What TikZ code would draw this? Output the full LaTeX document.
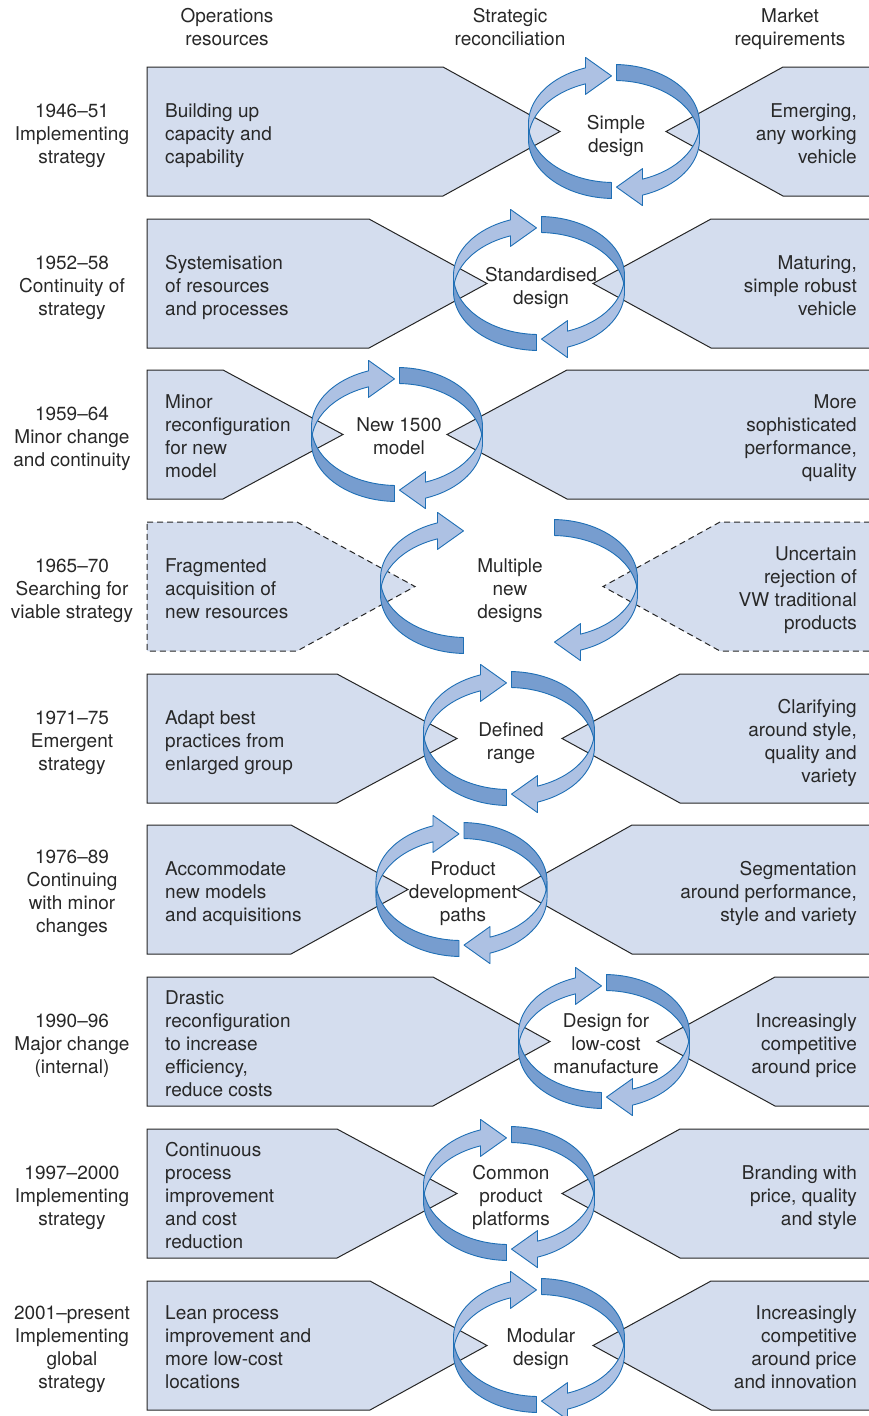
\documentclass[tikz,border=0pt]{standalone}
\usepackage{fontspec}
\setmainfont{TeX Gyre Heros}

\definecolor{panelfill}{RGB}{212,221,238}
\definecolor{ringlight}{RGB}{173,193,227}
\definecolor{ringdark}{RGB}{119,157,207}
\definecolor{ringline}{RGB}{31,111,181}
\definecolor{textgrey}{RGB}{40,40,40}

% ring of two arrows: #1 = centre of left arrow, #2 = centre of right arrow, #3 = row centre
\newcommand{\reconring}[3]{%
  \draw[darkband] plot[domain=180:91.68,samples=40] ({#1+85.5*cos(\x)},{#3+8+59*sin(\x)})
     -- plot[domain=91.68:180,samples=40] ({#1+85.5*cos(\x)},{#3-8+59*sin(\x)}) -- cycle;
  \draw[darkband] plot[domain=-88.32:0,samples=40] ({#2+85.5*cos(\x)},{#3-8+59*sin(\x)})
     -- plot[domain=0:-88.32,samples=40] ({#2+85.5*cos(\x)},{#3+8+59*sin(\x)}) -- cycle;
  \draw[lightband] plot[domain=-180:-109.47,samples=40] ({#1+85.5*cos(\x)},{#3-8+59*sin(\x)})
     -- (#1-28.5,#3-74.1) -- (#1-2.5,#3-55.6) -- (#1-28.5,#3-37.1)
     -- plot[domain=-109.47:-180,samples=40] ({#1+85.5*cos(\x)},{#3+8+59*sin(\x)}) -- cycle;
  \draw[lightband] plot[domain=0:70.53,samples=40] ({#2+85.5*cos(\x)},{#3+8+59*sin(\x)})
     -- (#2+28.5,#3+74.1) -- (#2+2.5,#3+55.6) -- (#2+28.5,#3+37.1)
     -- plot[domain=70.53:0,samples=40] ({#2+85.5*cos(\x)},{#3-8+59*sin(\x)}) -- cycle;
}

\begin{document}
\begin{tikzpicture}[x=1pt, y=-1pt,
    panel/.style={fill=panelfill, draw=black!85, line width=1pt},
    panelopen/.style={panel, dash pattern=on 6pt off 4pt},
    lightband/.style={fill=ringlight, draw=ringline, line width=0.9pt, line join=round},
    darkband/.style={fill=ringdark, draw=ringline, line width=0.9pt, line join=round},
    lbl/.style={inner sep=0pt, yshift=-5.5pt, text=textgrey, font=\fontsize{19}{23}\selectfont,
      execute at begin node=\strut, execute at end node=\strut},
    period/.style={lbl, align=center},
    resource/.style={lbl, anchor=west, align=left},
    market/.style={lbl, anchor=east, align=right},
    recon/.style={lbl, align=center}]
    \useasboundingbox (0,0) rectangle (869,1416);

    \node[period] (hdrops) at (227,25) {Operations\\resources};
    \node[period] (hdrrecon) at (510,25) {Strategic\\reconciliation};
    \node[period] (hdrmarket) at (790,25) {Market\\requirements};

    % 1946-51
    \draw[panel] (147,67) -- (443,67) -- (560,131.5) -- (443,196) -- (147,196) -- cycle;
    \draw[panel] (880,67) -- (783,67) -- (666,131.5) -- (783,196) -- (880,196);
    \reconring{614}{614}{131.5}

    % 1952-58
    \draw[panel] (147,219) -- (369,219) -- (487,283.5) -- (369,348) -- (147,348) -- cycle;
    \draw[panel] (880,219) -- (711,219) -- (593,283.5) -- (711,348) -- (880,348);
    \reconring{539}{539}{283.5}

    % 1959-64
    \draw[panel] (147,370) -- (223,370) -- (343,434.5) -- (223,499) -- (147,499) -- cycle;
    \draw[panel] (880,370) -- (567,370) -- (447,434.5) -- (567,499) -- (880,499);
    \reconring{397}{397}{434.5}

    % 1965-70
    \draw[panelopen] (147,522) -- (297,522) -- (415,586.5) -- (297,651) -- (147,651) -- cycle;
    \draw[panelopen] (880,522) -- (720,522) -- (603,586.5) -- (720,651) -- (880,651);
    \reconring{466}{552}{586.5}

    % 1971-75
    \draw[panel] (147,674) -- (337,674) -- (457,738.5) -- (337,803) -- (147,803) -- cycle;
    \draw[panel] (880,674) -- (680,674) -- (562,738.5) -- (680,803) -- (880,803);
    \reconring{509}{509}{738.5}

    % 1976-89
    \draw[panel] (147,825) -- (291,825) -- (408,889.5) -- (291,954) -- (147,954) -- cycle;
    \draw[panel] (880,825) -- (632,825) -- (517,889.5) -- (632,954) -- (880,954);
    \reconring{461.5}{461.5}{889.5}

    % 1990-96
    \draw[panel] (147,977) -- (433,977) -- (550,1041.5) -- (433,1106) -- (147,1106) -- cycle;
    \draw[panel] (880,977) -- (775,977) -- (657,1041.5) -- (775,1106) -- (880,1106);
    \reconring{604}{604}{1041.5}

    % 1997-2000
    \draw[panel] (147,1129) -- (337,1129) -- (457,1193.5) -- (337,1258) -- (147,1258) -- cycle;
    \draw[panel] (880,1129) -- (680,1129) -- (562,1193.5) -- (680,1258) -- (880,1258);
    \reconring{509}{509}{1193.5}

    % 2001-present
    \draw[panel] (147,1281) -- (370,1281) -- (487,1345.5) -- (370,1410) -- (147,1410) -- cycle;
    \draw[panel] (880,1281) -- (711,1281) -- (593,1345.5) -- (711,1410) -- (880,1410);
    \reconring{539}{539}{1345.5}

    % texts
    \node[period] (period1) at (72,131.5) {1946--51\\Implementing\\strategy};
    \node[resource] (res1) at (165,131.5) {Building up\\capacity and\\capability};
    \node[recon] (recon1) at (616,131.5) {Simple\\design};
    \node[market] (mkt1) at (857,131.5) {Emerging,\\any working\\vehicle};

    \node[period] (period2) at (72,283.5) {1952--58\\Continuity of\\strategy};
    \node[resource] (res2) at (165,283.5) {Systemisation\\of resources\\and processes};
    \node[recon] (recon2) at (541,283.5) {Standardised\\design};
    \node[market] (mkt2) at (857,283.5) {Maturing,\\simple robust\\vehicle};

    \node[period] (period3) at (72,434.5) {1959--64\\Minor change\\and continuity};
    \node[resource] (res3) at (165,434.5) {Minor\\reconfiguration\\for new\\model};
    \node[recon] (recon3) at (399,434.5) {New 1500\\model};
    \node[market] (mkt3) at (857,434.5) {More\\sophisticated\\performance,\\quality};

    \node[period] (period4) at (72,586.5) {1965--70\\Searching for\\viable strategy};
    \node[resource] (res4) at (165,586.5) {Fragmented\\acquisition of\\new resources};
    \node[recon] (recon4) at (510,586.5) {Multiple\\new\\designs};
    \node[market] (mkt4) at (857,586.5) {Uncertain\\rejection of\\VW traditional\\products};

    \node[period] (period5) at (72,738.5) {1971--75\\Emergent\\strategy};
    \node[resource] (res5) at (165,738.5) {Adapt best\\practices from\\enlarged group};
    \node[recon] (recon5) at (511,738.5) {Defined\\range};
    \node[market] (mkt5) at (857,738.5) {Clarifying\\around style,\\quality and\\variety};

    \node[period] (period6) at (72,889.5) {1976--89\\Continuing\\with minor\\changes};
    \node[resource] (res6) at (165,889.5) {Accommodate\\new models\\and acquisitions};
    \node[recon] (recon6) at (463,889.5) {Product\\development\\paths};
    \node[market] (mkt6) at (857,889.5) {Segmentation\\around performance,\\style and variety};

    \node[period] (period7) at (72,1041.5) {1990--96\\Major change\\(internal)};
    \node[resource] (res7) at (165,1041.5) {Drastic\\reconfiguration\\to increase\\efficiency,\\reduce costs};
    \node[recon] (recon7) at (606,1041.5) {Design for\\low-cost\\manufacture};
    \node[market] (mkt7) at (857,1041.5) {Increasingly\\competitive\\around price};

    \node[period] (period8) at (72,1193.5) {1997--2000\\Implementing\\strategy};
    \node[resource] (res8) at (165,1193.5) {Continuous\\process\\improvement\\and cost\\reduction};
    \node[recon] (recon8) at (511,1193.5) {Common\\product\\platforms};
    \node[market] (mkt8) at (857,1193.5) {Branding with\\price, quality\\and style};

    \node[period] (period9) at (72,1345.5) {2001--present\\Implementing\\global\\strategy};
    \node[resource] (res9) at (165,1345.5) {Lean process\\improvement and\\more low-cost\\locations};
    \node[recon] (recon9) at (541,1345.5) {Modular\\design};
    \node[market] (mkt9) at (857,1345.5) {Increasingly\\competitive\\around price\\and innovation};

\end{tikzpicture}
\end{document}
